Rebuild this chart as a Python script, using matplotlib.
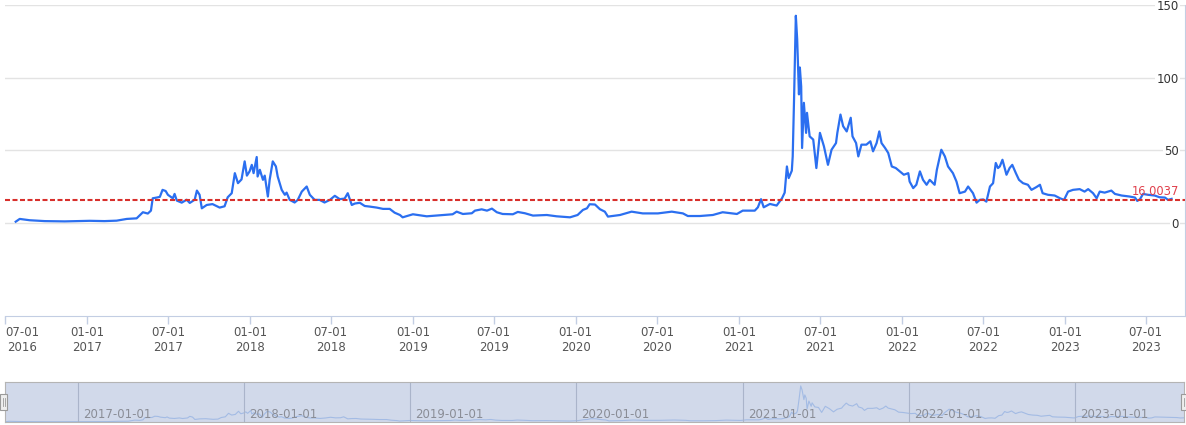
import matplotlib
matplotlib.use("Agg")
import matplotlib.pyplot as plt
import matplotlib.dates as mdates
from matplotlib.patches import Rectangle
import pandas as pd

# Datos (fecha, valor)
fechas = [
    "2016-07-25", "2016-08-03", "2016-08-25", "2016-09-28", "2016-11-12", "2017-01-07", "2017-02-09",
    "2017-03-08", "2017-03-31", "2017-04-22", "2017-05-06", "2017-05-17", "2017-05-24", "2017-05-28",
    "2017-06-06", "2017-06-13", "2017-06-19", "2017-06-26", "2017-07-01", "2017-07-12", "2017-07-16",
    "2017-07-21", "2017-08-01", "2017-08-12", "2017-08-19", "2017-08-30", "2017-09-04", "2017-09-10",
    "2017-09-15", "2017-09-26", "2017-10-09", "2017-10-25", "2017-11-05", "2017-11-12", "2017-11-21",
    "2017-11-28", "2017-12-05", "2017-12-13", "2017-12-20", "2017-12-25", "2017-12-31", "2018-01-05",
    "2018-01-09", "2018-01-16", "2018-01-18", "2018-01-23", "2018-01-30", "2018-02-03", "2018-02-10",
    "2018-02-14", "2018-02-21", "2018-02-28", "2018-03-04", "2018-03-13", "2018-03-20", "2018-03-24",
    "2018-03-31", "2018-04-11", "2018-04-18", "2018-04-27", "2018-05-08", "2018-05-15", "2018-05-26",
    "2018-06-06", "2018-06-17", "2018-06-29", "2018-07-10", "2018-07-21", "2018-08-01", "2018-08-08",
    "2018-08-17", "2018-08-24", "2018-09-04", "2018-09-15", "2018-09-26", "2018-10-12", "2018-10-26",
    "2018-11-10", "2018-11-21", "2018-12-03", "2018-12-09", "2019-01-01", "2019-02-01", "2019-03-02",
    "2019-03-31", "2019-04-09", "2019-04-23", "2019-05-13", "2019-05-20", "2019-06-04", "2019-06-16",
    "2019-06-27", "2019-07-08", "2019-07-21", "2019-08-13", "2019-08-24", "2019-09-09", "2019-09-27",
    "2019-10-28", "2019-11-19", "2019-12-19", "2020-01-05", "2020-01-17", "2020-01-26", "2020-02-01",
    "2020-02-13", "2020-02-24", "2020-03-06", "2020-03-13", "2020-04-09", "2020-05-05", "2020-05-30",
    "2020-07-03", "2020-08-03", "2020-08-28", "2020-09-08", "2020-10-05", "2020-11-03", "2020-11-25",
    "2020-12-27", "2021-01-09", "2021-02-05", "2021-02-12", "2021-02-19", "2021-02-25", "2021-03-11",
    "2021-03-26", "2021-04-07", "2021-04-13", "2021-04-18", "2021-04-22", "2021-04-29", "2021-05-01",
    "2021-05-04", "2021-05-08", "2021-05-11", "2021-05-13", "2021-05-15", "2021-05-17", "2021-05-20",
    "2021-05-22", "2021-05-26", "2021-05-31", "2021-06-02", "2021-06-08", "2021-06-16", "2021-06-23",
    "2021-07-01", "2021-07-10", "2021-07-19", "2021-07-27", "2021-08-06", "2021-08-09", "2021-08-16",
    "2021-08-22", "2021-08-30", "2021-09-08", "2021-09-12", "2021-09-20", "2021-09-25", "2021-10-02",
    "2021-10-13", "2021-10-22", "2021-10-28", "2021-11-05", "2021-11-11", "2021-11-16", "2021-11-24",
    "2021-12-01", "2021-12-09", "2021-12-18", "2021-12-27", "2022-01-05", "2022-01-15", "2022-01-18",
    "2022-01-26", "2022-02-02", "2022-02-10", "2022-02-17", "2022-02-25", "2022-03-04", "2022-03-15",
    "2022-03-20", "2022-03-30", "2022-04-07", "2022-04-14", "2022-04-25", "2022-05-03", "2022-05-10",
    "2022-05-22", "2022-05-29", "2022-06-09", "2022-06-17", "2022-06-24", "2022-07-02", "2022-07-09",
    "2022-07-17", "2022-07-24", "2022-07-30", "2022-08-04", "2022-08-08", "2022-08-14", "2022-08-23",
    "2022-08-30", "2022-09-05", "2022-09-13", "2022-09-20", "2022-09-29", "2022-10-10", "2022-10-18",
    "2022-10-29", "2022-11-06", "2022-11-12", "2022-11-24", "2022-12-09", "2022-12-21", "2022-12-30",
    "2023-01-08", "2023-01-19", "2023-02-03", "2023-02-14", "2023-02-22", "2023-03-05", "2023-03-13",
    "2023-03-20", "2023-03-31", "2023-04-15", "2023-04-23", "2023-05-08", "2023-05-26", "2023-06-07",
    "2023-06-12", "2023-06-18", "2023-06-25", "2023-07-06", "2023-07-21", "2023-08-01", "2023-08-13",
    "2023-08-20", "2023-08-28",
]
valores = [
    0.9, 2.8, 1.9, 1.3, 1.1, 1.5, 1.3,
    1.6, 2.8, 3.2, 7.4, 6.5, 8.5, 17.0,
    17.5, 18.0, 22.8, 22.0, 19.4, 17.0, 20.0,
    15.4, 14.0, 16.0, 13.8, 16.0, 22.3, 19.4,
    10.1, 12.4, 13.0, 10.6, 11.5, 17.7, 20.5,
    34.3, 27.4, 30.0, 42.4, 32.6, 35.5, 40.0,
    34.3, 45.4, 32.0, 36.6, 29.7, 32.6, 18.2,
    29.7, 42.4, 38.9, 32.0, 22.8, 19.4, 20.9,
    15.9, 14.1, 15.9, 21.6, 25.1, 19.4, 15.9,
    15.9, 14.1, 15.9, 18.7, 16.4, 16.8, 20.5,
    12.4, 13.4, 13.9, 11.7, 11.3, 10.6, 9.7,
    9.7, 7.1, 5.5, 3.9, 6.0, 4.6, 5.3,
    6.0, 7.8, 6.2, 6.7, 8.5, 9.4, 8.5,
    9.9, 7.4, 6.2, 6.0, 7.6, 6.7, 5.1,
    5.5, 4.6, 3.9, 5.5, 9.0, 10.1, 12.9,
    12.7, 9.5, 7.8, 4.4, 5.5, 7.8, 6.6,
    6.6, 7.8, 6.6, 4.8, 4.8, 5.5, 7.4,
    6.2, 8.5, 8.5, 10.8, 16.4, 10.8, 13.1,
    12.0, 17.0, 20.9, 38.9, 30.9, 36.0, 45.8,
    85.0, 142.6, 126.5, 108.0, 88.5, 107.0, 94.0,
    51.6, 82.7, 62.0, 75.8, 59.6, 57.4, 37.8,
    62.0, 52.7, 40.0, 50.4, 55.0, 62.0, 74.6,
    66.6, 63.0, 72.4, 59.6, 55.0, 45.8, 53.9,
    53.9, 56.2, 49.3, 55.0, 63.0, 55.0, 51.6,
    48.2, 38.9, 37.8, 35.5, 33.2, 34.3, 28.5,
    24.0, 26.3, 35.5, 29.7, 26.3, 29.7, 26.3,
    36.6, 50.4, 45.8, 38.9, 34.3, 28.5, 20.5,
    21.6, 25.1, 20.5, 14.0, 15.9, 16.2, 14.7,
    25.1, 27.4, 41.3, 37.8, 38.9, 43.5, 33.2,
    37.8, 40.0, 34.3, 29.7, 27.4, 26.3, 22.8,
    24.7, 26.3, 20.5, 19.4, 18.9, 17.0, 15.9,
    21.6, 22.8, 23.3, 21.6, 23.3, 20.5, 17.0,
    21.6, 20.9, 22.3, 20.0, 18.9, 18.2, 17.5,
    15.2, 16.3, 20.0, 19.4, 18.9, 17.7, 17.5,
    15.9, 16.6,
]
linea_ref = 16.0037
ticks_y = [0, 50, 100, 150]
ticks_x = pd.date_range("2016-07-01", "2023-07-01", freq="6MS")
etiquetas_slider = ["2017-01-01", "2018-01-01", "2019-01-01", "2020-01-01",
                    "2021-01-01", "2022-01-01", "2023-01-01"]

fechas = pd.to_datetime(fechas)

W, H = 1186, 425
fig = plt.figure(figsize=(W / 100, H / 100), dpi=100)

# Grafico principal
ax = fig.add_axes([5 / W, 109 / H, 1180 / W, 311 / H])
ax.plot(fechas, valores, color="#2b6ff0", lw=1.6, zorder=3)
ax.axhline(linea_ref, color="#d8302c", lw=1.5, linestyle=(0, (2.4, 1.2)), zorder=4)
ax.annotate(f"{linea_ref:.4f}", xy=(1, linea_ref), xycoords=("axes fraction", "data"),
            xytext=(-4.5, 1.5), textcoords="offset points", ha="right", va="bottom",
            color="#e0404c", fontsize=8.3, zorder=5)

ax.set_xlim(pd.Timestamp("2016-07-01"), pd.Timestamp("2023-09-27"))
ax.set_xticks(ticks_x)
ax.xaxis.set_major_formatter(mdates.DateFormatter("%m-%d\n%Y"))
ax.tick_params(axis="x", length=6, width=1, color="#c3cee3", labelcolor="#555555",
               labelsize=8.5, pad=1)
# la primera etiqueta va alineada a la izquierda para que no se corte
primera = ax.get_xticklabels()[0]
primera.set_ha("left")
primera.set_multialignment("center")

ax.set_ylim(-64, 150)
ax.set_yticks(ticks_y)
ax.yaxis.tick_right()
ax.tick_params(axis="y", length=0, pad=-4.5, labelsize=8.5, labelcolor="#333333")
for lbl in ax.get_yticklabels():
    lbl.set_ha("right")
    lbl.set_bbox(dict(facecolor="white", edgecolor="none", pad=1))

ax.grid(axis="y", color="#e3e3e3", lw=1)
ax.set_axisbelow(True)
ax.spines["top"].set_visible(False)
ax.spines["left"].set_visible(False)
ax.spines["right"].set_color("#c3cee3")
ax.spines["bottom"].set_color("#c3cee3")

# Barra de zoom inferior
axs = fig.add_axes([5 / W, 3 / H, 1179 / W, 40 / H])
axs.set_facecolor("#d1d9ea")
axs.plot(fechas, valores, color="#a3bbe4", lw=0.8)
axs.set_xlim(fechas[0], fechas[-1])
axs.set_ylim(0, 158)
axs.set_xticks([])
axs.set_yticks([])
for s in axs.spines.values():
    s.set_color("#b4b4b4")

for e in etiquetas_slider:
    d = mdates.date2num(pd.Timestamp(e))
    axs.axvline(d, color="#aab4ca", lw=0.8)
    axs.annotate(e, xy=(d, 0.2), xycoords=("data", "axes fraction"), xytext=(3.5, 0),
                 textcoords="offset points", ha="left", va="center", color="#8a8d96", fontsize=8.5)

# Manijas
for x0 in [-5 / 1179, 1176 / 1179]:
    axs.add_patch(Rectangle((x0, 0.3), 7 / 1179, 0.4, transform=axs.transAxes, clip_on=False,
                            facecolor="#eeeeee", edgecolor="#9a9a9a", lw=0.8, zorder=6))
    for dx in [2.5 / 1179, 4.5 / 1179]:
        axs.plot([x0 + dx, x0 + dx], [0.4, 0.6], transform=axs.transAxes, clip_on=False,
                 color="#9a9a9a", lw=0.6, zorder=7)

fig.savefig("out.png", dpi=100)
